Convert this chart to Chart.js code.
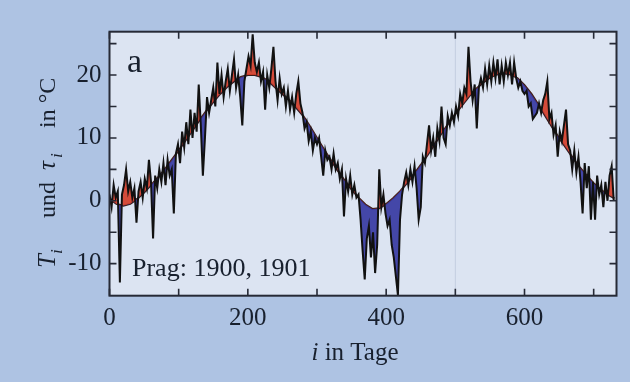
<!DOCTYPE html>
<html>
<head>
<meta charset="utf-8">
<script src="https://cdn.jsdelivr.net/npm/chart.js@4"></script>
<style>
  html, body { margin: 0; padding: 0; background: #aec3e3; }
  canvas { display: block; }
</style>
</head>
<body>
<canvas id="chart" width="630" height="382"></canvas>
<script>
const tDays = [];
for (let d = 0; d <= 729; d += 3) tDays.push(d);
const tValues = [
  1, -1, 2.5, 0.5, 1.5, -13, 1, 2.5, 5, 1.5,
  3, 0.5, 2, -3.5, 1.5, 3, 0.5, 3.5, 2, 6.5,
  3, -6, 4, 2, 5, 3, 6, 2.5, 6.5, 4,
  5, -2, 7.5, 9, 6, 11, 8.5, 12.5, 9, 14.5,
  10, 14, 11, 18.5, 12, 4, 10, 16.5, 14, 16,
  18, 15, 22, 17, 20, 16.5, 19, 21, 17.5, 20,
  22.5, 18, 20, 16.5, 12, 19, 21, 23, 21.5, 26.5,
  22, 20.5, 22, 19, 20.5, 14.5, 20, 18, 21, 24.5,
  19, 16, 19.5, 17, 18, 15, 17.5, 14.5, 16.5, 14,
  17, 19, 15.5, 14, 11.5, 12.5, 9.5, 11, 8, 10,
  9, 10, 7, 4, 8, 6.5, 7, 5, 7.5, 5,
  6, 3.5, 5, -2.5, 3.5, 1.5, 4, 1, 2.5, 0.5,
  1, -3, -8, -12.5, -6, -4, -9, -5, -11.5, -7,
  5, -1, 1, -2, -4, -3, -7, -9, -12, -15,
  -3, 1, 3, 4.5, 2.5, 5, 3, 5.5, 2, -3,
  -1, 7, 6, 9, 12, 8, 10, 7, 11.5, 9.5,
  15, 10, 9, 13.5, 12, 14, 12.5, 15, 13.5, 17,
  15.5, 18, 17, 24.5, 19, 16, 18.5, 11.5, 18, 19.5,
  18, 21, 18.5, 21.5, 19, 22, 19.5, 22.5, 18.5, 21.5,
  19, 22, 20, 22, 18.5, 22, 19.5, 18, 19, 17.5,
  17, 17.5, 15, 15.5, 13, 13.5, 14, 15.5, 14, 16,
  17, 19, 13, 14, 10.5, 12, 7, 11, 9.5, 12,
  14.5, 9, 8, 5, 8, 4.5, 7, 3, -2, 6,
  2, 5.5, -3, 3, -3, 4, 1, 2.5, -1, 3, 0, 4, 5.5, 0
];

// smoothed seasonal curve tau, every 10 days
const tauDays = [];
for (let d = 0; d <= 730; d += 10) tauDays.push(d);
const tauValues = [
  0.3, -0.5, -0.8, -0.5, 0.3, 1.3, 2.5, 3.7, 5, 6.5,
  8, 9.6, 11.2, 12.8, 14.3, 15.7, 17, 18.1, 19, 19.7,
  20, 20, 19.7, 19, 18, 17, 16, 14.8, 13.5, 11.8,
  10, 8.2, 6.5, 4.8, 3.2, 1.8, 0.5, -0.6, -1.3, -1.2,
  -0.5, 0.4, 1.5, 2.8, 4.2, 5.7, 7.3, 9, 10.7, 12.3,
  13.8, 15.2, 16.6, 17.8, 18.8, 19.6, 20.1, 20.3, 20.1, 19.5,
  18.4, 17, 15.3, 13.5, 11.7, 10, 8.4, 6.8, 5.3, 4,
  2.8, 1.8, 1, 0.4
];

const xTickLabels = [0, 200, 400, 600];
const xTickMarks = [0, 100, 200, 300, 400, 500, 600, 700];
const yTickLabels = [-10, 0, 10, 20];
const yTickMarks = [-10, -5, 0, 5, 10, 15, 20, 25];

const serif = '"Liberation Serif", "DejaVu Serif", serif';
const textColor = '#18202e';

const framePlugin = {
  id: 'frame',
  beforeDatasetsDraw(chart) {
    const { ctx, chartArea: a, scales } = chart;
    ctx.save();
    ctx.fillStyle = '#dce4f2';
    ctx.fillRect(a.left, a.top, a.right - a.left, a.bottom - a.top);
    // faint vertical line seen in the scan
    const x5 = scales.x.getPixelForValue(500);
    ctx.strokeStyle = '#c3cde0';
    ctx.lineWidth = 1;
    ctx.beginPath();
    ctx.moveTo(x5, a.top);
    ctx.lineTo(x5, a.bottom);
    ctx.stroke();
    ctx.restore();
  },
  afterDatasetsDraw(chart) {
    const { ctx, chartArea: a, scales } = chart;
    ctx.save();
    ctx.strokeStyle = '#262a36';
    ctx.lineWidth = 2;
    ctx.strokeRect(a.left, a.top, a.right - a.left, a.bottom - a.top);
    ctx.lineWidth = 1.6;
    ctx.beginPath();
    xTickMarks.forEach(v => {
      const x = scales.x.getPixelForValue(v);
      ctx.moveTo(x, a.bottom); ctx.lineTo(x, a.bottom - 7);
      ctx.moveTo(x, a.top); ctx.lineTo(x, a.top + 7);
    });
    yTickMarks.forEach(v => {
      const y = scales.y.getPixelForValue(v);
      ctx.moveTo(a.left, y); ctx.lineTo(a.left + 7, y);
      ctx.moveTo(a.right, y); ctx.lineTo(a.right - 7, y);
    });
    ctx.stroke();

    // labels inside plot
    ctx.fillStyle = textColor;
    ctx.textBaseline = 'alphabetic';
    ctx.font = '34px ' + serif;
    ctx.fillText('a', 127, 72);
    ctx.font = '26px ' + serif;
    ctx.fillText('Prag: 1900, 1901', 132, 276);
    ctx.restore();
  },
  afterDraw(chart) {
    const { ctx } = chart;
    ctx.save();
    ctx.fillStyle = textColor;
    ctx.textBaseline = 'alphabetic';

    // x axis title
    ctx.font = 'italic 25px ' + serif;
    const wi = ctx.measureText('i').width;
    ctx.font = '25px ' + serif;
    const wr = ctx.measureText(' in Tage').width;
    const x0 = 355 - (wi + wr) / 2;
    ctx.font = 'italic 25px ' + serif;
    ctx.fillText('i', x0, 360);
    ctx.font = '25px ' + serif;
    ctx.fillText(' in Tage', x0 + wi, 360);

    // y axis title, rotated; pieces placed along the axis as in the scan
    ctx.translate(55, 268);
    ctx.rotate(-Math.PI / 2);
    const parts = [
      ['italic 25px ', 'T', 0, 0],
      ['italic 17px ', 'i', 14, 7],
      ['24px ', 'und', 50, 0],
      ['italic 25px ', '\u03c4', 98, 0],
      ['italic 17px ', 'i', 110, 7],
      ['24px ', 'in \u00b0C', 140, 0]
    ];
    parts.forEach(([f, s, px, dy]) => {
      ctx.font = f + serif;
      ctx.fillText(s, px, dy);
    });
    ctx.restore();
  }
};

new Chart(document.getElementById('chart'), {
  type: 'line',
  data: {
    datasets: [
      {
        label: 'T',
        data: tDays.map((d, i) => ({ x: d, y: tValues[i] })),
        borderColor: '#111111',
        borderWidth: 2,
        pointRadius: 0,
        fill: { target: 1, above: 'rgba(210, 62, 42, 0.92)', below: 'rgba(54, 58, 162, 0.92)' }
      },
      {
        label: 'tau',
        data: tauDays.map((d, i) => ({ x: d, y: tauValues[i] })),
        borderColor: '#3a1c18',
        borderWidth: 2,
        pointRadius: 0,
        fill: false
      }
    ]
  },
  options: {
    responsive: false,
    animation: false,
    layout: { padding: { left: 0, top: 31.7, right: 13.5, bottom: 0 } },
    plugins: { legend: { display: false }, tooltip: { enabled: false } },
    scales: {
      x: {
        type: 'linear',
        min: 0,
        max: 733,
        grid: { display: false, drawTicks: false },
        border: { display: false },
        afterBuildTicks: s => { s.ticks = xTickLabels.map(v => ({ value: v })); },
        afterFit: s => { s.height = 382 - 295.7; },
        ticks: {
          padding: 8,
          color: textColor,
          font: { family: serif, size: 25 },
          callback: v => String(v),
          maxRotation: 0
        }
      },
      y: {
        min: -15.1,
        max: 26.9,
        grid: { display: false, drawTicks: false },
        border: { display: false },
        afterBuildTicks: s => { s.ticks = yTickLabels.map(v => ({ value: v })); },
        afterFit: s => { s.width = 109.5; },
        ticks: {
          padding: 8,
          color: textColor,
          font: { family: serif, size: 25 },
          callback: v => String(v)
        }
      }
    }
  },
  plugins: [framePlugin]
});
</script>
</body>
</html>
